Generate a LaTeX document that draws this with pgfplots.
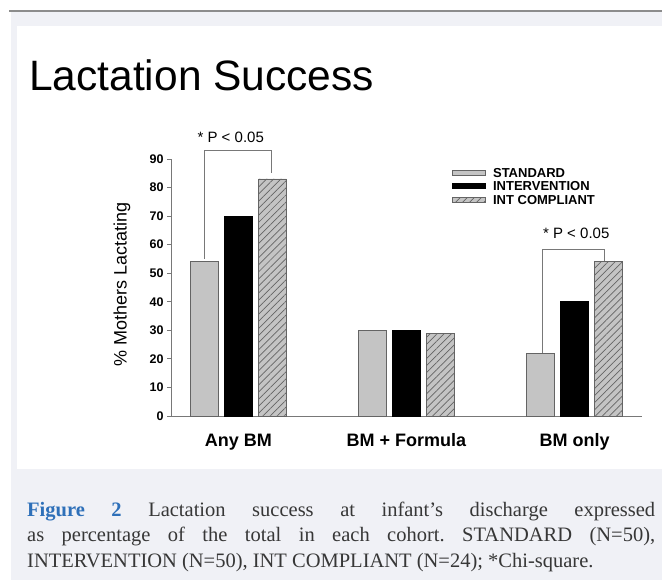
\documentclass[border=0pt]{standalone}
\usepackage{fontspec}
\setmainfont{Liberation Sans}
\newfontfamily\capfont{Liberation Serif}
\usepackage{pgfplots}
\pgfplotsset{compat=1.18}
\usetikzlibrary{patterns.meta}
\definecolor{bgc}{RGB}{240,241,246}
\definecolor{barg}{RGB}{196,196,196}
\definecolor{edg}{RGB}{100,100,100}
\definecolor{capblue}{RGB}{46,112,185}
\definecolor{captext}{RGB}{55,55,55}
\definecolor{axg}{RGB}{120,120,120}
\definecolor{topline}{RGB}{140,140,140}
\pgfplotsset{myleg/.style={legend image code/.code={\draw[##1] (0pt,-2.5pt) rectangle (33pt,2.5pt);}}}
\begin{document}
\begin{tikzpicture}[x=1pt,y=1pt]
\path[use as bounding box] (0,0) rectangle (662,-580);
\fill[bgc] (11,-12) rectangle (662,-580);
\fill[white] (17,-26) rectangle (662,-469);
\draw[line width=1.2pt, topline] (9,-11) -- (662,-11);
\node[anchor=base west, inner sep=0] at (29,-91) {\fontsize{42.5}{50}\selectfont Lactation Success};
\begin{axis}[
  at={(171pt,-416pt)}, anchor=south west, scale only axis,
  width=471pt, height=257pt,
  xmin=-0.4, xmax=2.4, ymin=0, ymax=90,
  clip=false,
  axis x line*=bottom, axis y line*=left,
  axis line style={axg, line width=0.9pt},
  xtick={0,1,2}, xticklabels={Any BM, BM + Formula, BM only},
  xtick style={draw=none},
  ytick={0,10,...,90},
  ytick style={axg, line width=0.9pt},
  tick align=outside, major tick length=4pt,
  /pgf/number format/assume math mode=true,
  yticklabel style={font=\fontsize{12.5}{12.5}\selectfont\bfseries},
  xticklabel style={font=\fontsize{18}{18}\selectfont\bfseries, anchor=base, yshift=-26pt},
  ylabel={\% Mothers Lactating},
  ylabel style={font=\fontsize{18}{18}\selectfont, at={(axis description cs:-0.104,0.51)}, anchor=center},
  ybar=6pt, bar width=28pt,
  legend style={at={(axis description cs:0.597,0.973)}, anchor=north west, draw=none, fill=none,
    font=\fontsize{13}{13}\selectfont\bfseries, inner sep=0pt, row sep=0.5pt, column sep=5pt,
    nodes={inner sep=2pt, text height=9pt, text depth=0pt}},
  legend cell align=left,
]
\addplot[myleg, fill=barg, draw=edg, line width=0.7pt] coordinates {(0,54) (1,30) (2,22)};
\addplot[myleg, fill=black, draw=black, line width=0.7pt] coordinates {(0,70) (1,30) (2,40)};
\addplot[myleg, fill=barg, draw=edg, line width=0.7pt,
  postaction={pattern={Lines[angle=45,distance=5pt,line width=0.7pt]}, pattern color=edg}]
  coordinates {(0,83) (1,29) (2,54)};
\legend{STANDARD, INTERVENTION, INT COMPLIANT}
\draw[axg, line width=0.9pt] (axis cs:-0.202,55) -- (axis cs:-0.202,93.1) -- (axis cs:0.200,93.1) -- (axis cs:0.200,85);
\node[anchor=base, inner sep=0, font=\fontsize{15}{15}\selectfont] at (axis cs:-0.045,95.9) {* P < 0.05};
\draw[axg, line width=0.9pt] (axis cs:1.81,22) -- (axis cs:1.81,58.5) -- (axis cs:2.179,58.5) -- (axis cs:2.179,54.3);
\node[anchor=base, inner sep=0, font=\fontsize{15}{15}\selectfont] at (axis cs:2.009,62.3) {* P < 0.05};
\end{axis}
\node[anchor=base west, inner sep=0, text=captext] at (27,-516) {\parbox[t]{628pt}{\capfont\fontsize{20.5}{25.5}\selectfont\hbadness=10000\hfuzz=2pt\parindent=0pt\frenchspacing\leavevmode{\bfseries\color{capblue}Figure 2} Lactation success at infant’s discharge expressed\linebreak as percentage of the total in each cohort. STANDARD (N=50),\linebreak INTERVENTION (N=50), INT COMPLIANT (N=24); *Chi-square.}};
\end{tikzpicture}
\end{document}
